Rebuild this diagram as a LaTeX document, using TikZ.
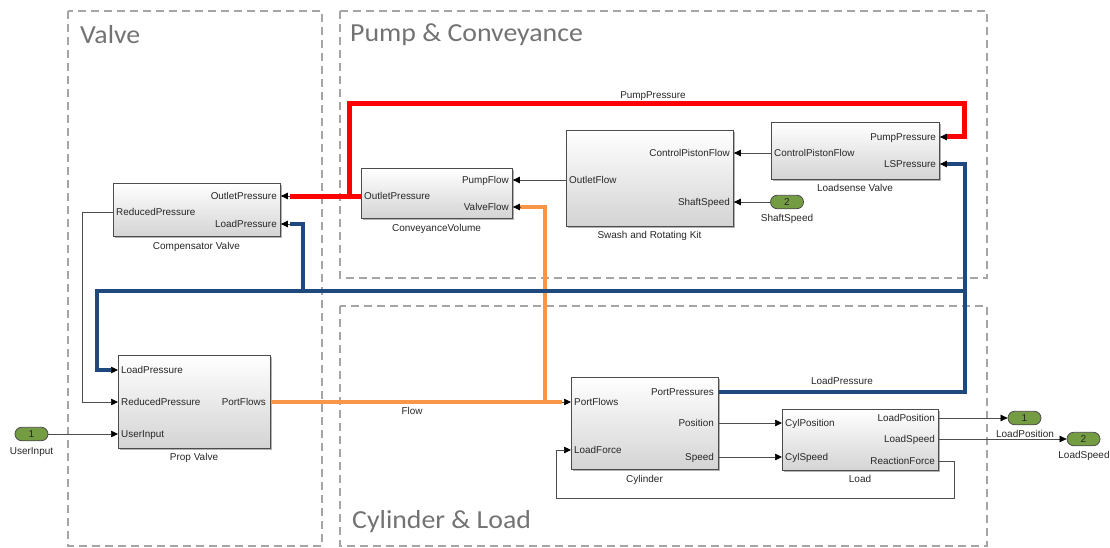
\documentclass[tikz,border=0pt]{standalone}
\usepackage{fontspec}
\setmainfont{Liberation Sans}
\newfontfamily\titlefont{Carlito}
\usetikzlibrary{arrows.meta,calc,shadows,shapes.misc}
\definecolor{sigred}{RGB}{255,0,0}
\definecolor{sigblue}{RGB}{31,73,125}
\definecolor{sigorange}{RGB}{247,150,70}
\definecolor{portgreen}{RGB}{116,156,66}
\definecolor{areagray}{RGB}{165,165,165}
\definecolor{titlegray}{RGB}{115,115,115}
\begin{document}
\begin{tikzpicture}[x=1pt,y=-1pt,
  area/.style={draw=areagray, line width=2pt, dash pattern=on 8pt off 5pt},
  areatitle/.style={font=\titlefont\fontsize{26}{28}\selectfont, text=titlegray, anchor=west, inner sep=0, xscale=1.07},
  blk/.style={draw=black!70, line width=0.9pt, top color=white, bottom color=black!17, inner sep=0, anchor=north west,
    general shadow={fill=black!30, shadow xshift=1.8pt, shadow yshift=-1.8pt}},
  pl/.style={font=\fontsize{9.9}{11}\selectfont, text=black!85, inner sep=0, text height=7.2pt, text depth=0pt},
  bcap/.style={font=\fontsize{10}{12}\selectfont, text=black!85, inner sep=0, text height=7.2pt, text depth=0pt},
  ioport/.style={shape=rounded rectangle, draw=black!70, line width=0.8pt, fill=portgreen, minimum width=33pt, minimum height=13.5pt, inner sep=0, font=\fontsize{10}{11}\selectfont, text=black!85},
  sig/.style={draw=black!70, line width=0.7pt, -{Triangle[length=7pt,width=6.5pt,fill=black,color=black]}},
  redw/.style={draw=sigred, line width=5pt, line join=miter},
  bluew/.style={draw=sigblue, line width=4.8pt, line join=miter},
  orangew/.style={draw=sigorange, line width=4.2pt, line join=miter}
]
\useasboundingbox (0,0) rectangle (1110,548);

% areas
\draw[area] (68,11) rectangle (322,546);
\draw[area] (340,11) rectangle (987,278);
\draw[area] (340,306) rectangle (987,546);
\node[areatitle] (tValve) at (80,35) {Valve};
\node[areatitle] (tPump) at (350,35) {Pump \& Conveyance};
\node[areatitle] (tCyl) at (352,522) {Cylinder \& Load};

% blocks
\node[blk, minimum width=167pt, minimum height=53pt] (comp) at (113,183) {};
\node[blk, minimum width=152pt, minimum height=93pt] (prop) at (118,355) {};
\node[blk, minimum width=151pt, minimum height=50pt] (cv) at (361,168) {};
\node[blk, minimum width=167pt, minimum height=96pt] (sw) at (566,130) {};
\node[blk, minimum width=168pt, minimum height=57pt] (ls) at (771,122) {};
\node[blk, minimum width=147pt, minimum height=92pt] (cyl) at (571,377) {};
\node[blk, minimum width=156pt, minimum height=61pt] (load) at (782,409) {};

% port labels
\node[pl, anchor=east] (compOPl) at (277,196) {OutletPressure};
\node[pl, anchor=east] (compLPl) at (277,224) {LoadPressure};
\node[pl, anchor=west] (compRPl) at (116,212) {ReducedPressure};
\node[bcap] (compCap) at (196.5,246) {Compensator Valve};

\node[pl, anchor=west] (propLPl) at (121,370) {LoadPressure};
\node[pl, anchor=west] (propRPl) at (121,402) {ReducedPressure};
\node[pl, anchor=west] (propUIl) at (121,434) {UserInput};
\node[pl, anchor=east] (propPFl) at (266,402) {PortFlows};
\node[bcap] (propCap) at (194,457) {Prop Valve};

\node[pl, anchor=east] (cvPFl) at (509,180) {PumpFlow};
\node[pl, anchor=east] (cvVFl) at (509,207) {ValveFlow};
\node[pl, anchor=west] (cvOPl) at (364,196) {OutletPressure};
\node[bcap] (cvCap) at (436.5,228) {ConveyanceVolume};

\node[pl, anchor=west] (swOFl) at (569,180) {OutletFlow};
\node[pl, anchor=east] (swCPFl) at (730,153) {ControlPistonFlow};
\node[pl, anchor=east] (swSSl) at (730,202) {ShaftSpeed};
\node[bcap] (swCap) at (649.5,235) {Swash and Rotating Kit};

\node[pl, anchor=east] (lsPPl) at (936,137) {PumpPressure};
\node[pl, anchor=east] (lsLSPl) at (936,164) {LSPressure};
\node[pl, anchor=west] (lsCPFl) at (774,153) {ControlPistonFlow};
\node[bcap] (lsCap) at (855,188) {Loadsense Valve};

\node[pl, anchor=west] (cylPFl) at (574,402) {PortFlows};
\node[pl, anchor=west] (cylLFl) at (574,450) {LoadForce};
\node[pl, anchor=east] (cylPPl) at (714,392) {PortPressures};
\node[pl, anchor=east] (cylPosl) at (714,423) {Position};
\node[pl, anchor=east] (cylSpdl) at (714,457) {Speed};
\node[bcap] (cylCap) at (644.5,479) {Cylinder};

\node[pl, anchor=west] (loadCPl) at (785,423) {CylPosition};
\node[pl, anchor=west] (loadCSl) at (785,457) {CylSpeed};
\node[pl, anchor=east] (loadLPl) at (935,418) {LoadPosition};
\node[pl, anchor=east] (loadLSl) at (935,439) {LoadSpeed};
\node[pl, anchor=east] (loadRFl) at (935,461) {ReactionForce};
\node[bcap] (loadCap) at (860,479) {Load};

% in/out ports
\node[ioport] (in1) at (31.5,434) {1};
\node[bcap] (in1l) at (31.5,451) {UserInput};
\node[ioport] (in2) at (787,202) {2};
\node[bcap] (in2l) at (787,218) {ShaftSpeed};
\node[ioport] (out1) at (1024.5,418) {1};
\node[bcap] (out1l) at (1025,434) {LoadPosition};
\node[ioport] (out2) at (1083.5,439) {2};
\node[bcap] (out2l) at (1084,455) {LoadSpeed};

% thin signals
\draw[sig] (in1.east) -- (prop.west |- propUIl);
\draw[sig] (comp.west |- compRPl) -- ++(-31,0) |- (prop.west |- propRPl);
\draw[sig] (sw.west |- swOFl) -- (cv.east |- cvPFl);
\draw[sig] (ls.west |- lsCPFl) -- (sw.east |- swCPFl);
\draw[sig] (in2.west) -- (sw.east |- swSSl);
\draw[sig] (cyl.east |- cylPosl) -- (load.west |- loadCPl);
\draw[sig] (cyl.east |- cylSpdl) -- (load.west |- loadCSl);
\draw[sig] (load.east |- loadLPl) -- (out1.west);
\draw[sig] (load.east |- loadLSl) -- (out2.west);
\coordinate (rfA) at (954,498);
\coordinate (rfB) at (556,498);
\draw[sig] (load.east |- loadRFl) -| (rfA) -- (rfB) |- (cyl.west |- cylLFl);

% orange Flow
\coordinate (oA) at (562,402);
\coordinate (oJ) at (545,402);
\coordinate (oT) at (545,207);
\coordinate (oB) at (520,207);
\draw[orangew] (prop.east |- propPFl) -- (oA);
\draw[orangew] (oJ) -- (oT) -- (oB);
\draw[sig] (oA) -- (cyl.west |- cylPFl);
\draw[sig] (oB) -- (cv.east |- cvVFl);
\node[pl] (flowl) at (412,411) {Flow};

% red PumpPressure
\coordinate (rJ) at (349,196);
\coordinate (rA) at (290,196);
\coordinate (rT1) at (349,104);
\coordinate (rT2) at (964,104);
\coordinate (rT3) at (964,137);
\coordinate (rB) at (947,137);
\draw[redw] (cv.west |- cvOPl) -- (rA);
\draw[redw] (rJ) -- (rT1) -- (rT2) -- (rT3) -- (rB);
\draw[sig] (rA) -- (comp.east |- compOPl);
\draw[sig] (rB) -- (ls.east |- lsPPl);
\node[pl] (ppl) at (653,95) {PumpPressure};

% blue LoadPressure
\coordinate (bA) at (947,164);
\coordinate (bB) at (965,164);
\coordinate (bC) at (965,291);
\coordinate (bL1) at (97,291);
\coordinate (bL2) at (97,370);
\coordinate (bP) at (111,370);
\coordinate (bM) at (303,291);
\coordinate (bM2) at (303,224);
\coordinate (bQ) at (290,224);
\draw[bluew] (cyl.east |- cylPPl) -| (bB) -- (bA);
\draw[bluew] (bC) -- (bL1) -- (bL2) -- (bP);
\draw[bluew] (bM) -- (bM2) -- (bQ);
\draw[sig] (bA) -- (ls.east |- lsLSPl);
\draw[sig] (bP) -- (prop.west |- propLPl);
\draw[sig] (bQ) -- (comp.east |- compLPl);
\node[pl] (lpl) at (842,381) {LoadPressure};
\end{tikzpicture}
\end{document}
